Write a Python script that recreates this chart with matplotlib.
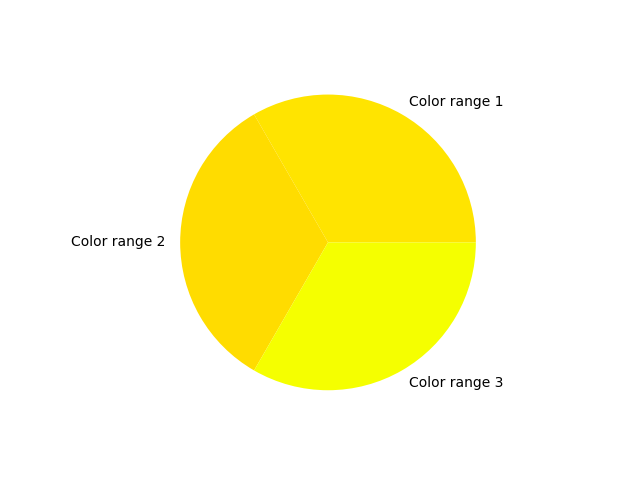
import matplotlib
matplotlib.use('Agg')
import matplotlib.pyplot as plt

labels = ['Color range 1', 'Color range 2', 'Color range 3']
sizes = [1, 1, 1]
colors = ['#FFE400', '#FFDC00', '#F5FF00']

fig, ax = plt.subplots(figsize=(6.4, 4.8), dpi=100)
ax.pie(sizes, labels=labels, colors=colors)
fig.savefig('out.png')
